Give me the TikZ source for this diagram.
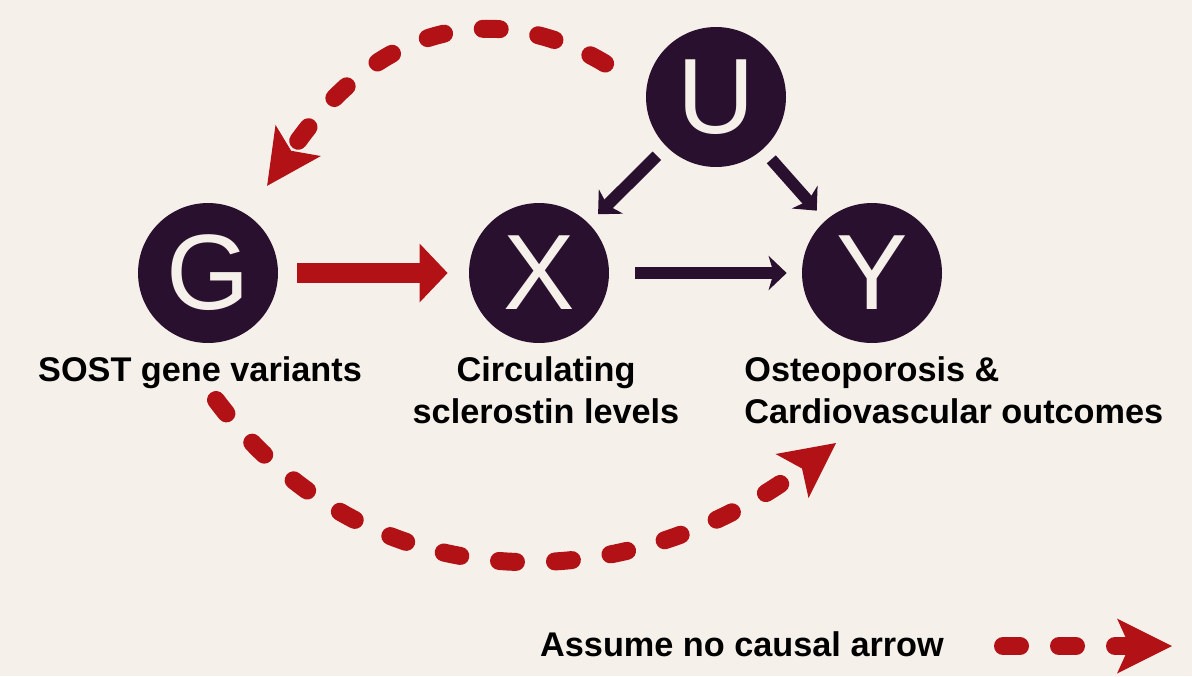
\documentclass[tikz,border=0pt]{standalone}
\usepackage{fontspec}
\setmainfont{Liberation Sans}
\usetikzlibrary{arrows.meta, positioning}
\definecolor{cream}{RGB}{245,240,234}
\definecolor{plum}{RGB}{40,16,46}
\definecolor{crimson}{RGB}{178,18,22}

\begin{document}
\begin{tikzpicture}[x=0.02cm, y=-0.02cm,
        var/.style={circle, fill=plum, minimum size=2.8cm, inner sep=0pt, text=cream, font=\fontsize{61}{61}\selectfont},
        varname/.style={inner sep=0pt, font=\bfseries\fontsize{19.5}{24}\selectfont},
        instrument/.style={draw=crimson, line width=0.4cm, -{Triangle[length=0.56cm, width=1.14cm]}},
        effect/.style={draw=plum, line width=0.24cm, -{Stealth[length=0.36cm, width=0.68cm, inset=0.1cm]}, shorten <=0.26cm, shorten >=0.26cm},
        nocausal/.style={draw=crimson, line width=0.36cm, line cap=round, dash pattern=on 0.34cm off 0.78cm, -{Stealth[length=1.1cm, width=1.1cm, inset=0.25cm, line width=0pt]}}
    ]
        \path[use as bounding box, fill=cream] (0,0) rectangle (1192,676);

        \node[var] (U) at (716,97) {U};
        \node[var] (G) at (208,273) {G};
        \node[var] (X) at (539,273) {X};
        \node[var] (Y) at (872,273) {Y};

        \node[varname, anchor=north] (Glab) at (200,356) {SOST gene variants};
        \node[varname, anchor=north, align=center] (Xlab) at (546,356) {Circulating\\sclerostin levels};
        \node[varname, anchor=north west, align=left] (Ylab) at (744,356) {Osteoporosis \&\\Cardiovascular outcomes};

        \draw[instrument, shorten <=0.38cm, shorten >=0.42cm] (G) -- (X);
        \draw[effect, shorten <=0.52cm, shorten >=0.3cm] (X) -- (Y);
        \draw[effect] (U) -- (X);
        \draw[effect] (U) -- (Y);

        \draw[nocausal, shorten <=0.96cm, shorten >=0.7cm] (U.173) .. controls (530,18) and (400,-8) .. (G.56);
        \coordinate (gfoot) at (216,400);
        \coordinate (yfoot) at (836,443);
        \draw[nocausal] (gfoot) .. controls (372,608) and (628,599) .. (yfoot);

        \node[varname, anchor=base] (keytext) at (742,656) {Assume no causal arrow};
        \coordinate (keystart) at (1003,646);
        \coordinate (keyend) at (1172,646);
        \draw[nocausal] (keystart) -- (keyend);
    \end{tikzpicture}
\end{document}
